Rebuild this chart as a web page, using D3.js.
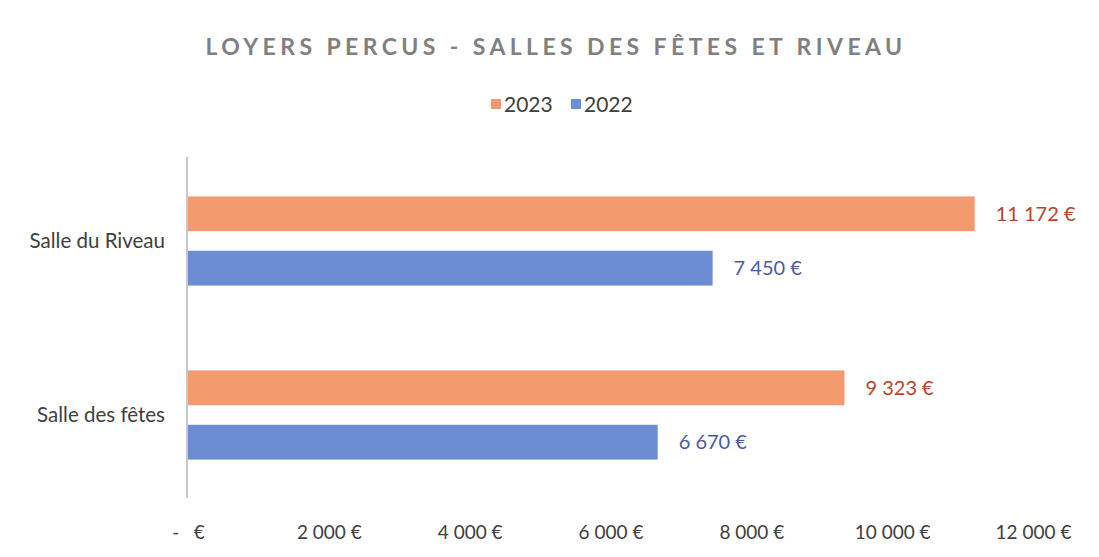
<!DOCTYPE html>
<html>
<head>
<meta charset="utf-8">
<script src="https://cdn.jsdelivr.net/npm/d3@7"></script>
<style>
  body { margin: 0; background: #fff; }
  text { font-family: Lato, "Open Sans", sans-serif; }
</style>
</head>
<body>
<script>
let w = 1099;
let h = 557;

const categories = ["Salle du Riveau", "Salle des fêtes"];
const years = ["2023", "2022"];
const values2023 = [11172, 9323];
const values2022 = [7450, 6670];
const xTicks = [0, 2000, 4000, 6000, 8000, 10000, 12000];

const barColors = { "2023": "#f39a6f", "2022": "#6a8dd4" };
const labelColors = { "2023": "#b4452c", "2022": "#4d5aa0" };

const rows = categories.map(function (c, i) {
  return { cat: c, "2023": values2023[i], "2022": values2022[i] };
});

const margin = { top: 154, right: 66, bottom: 55, left: 188 };

let svg = d3.select("body").append("svg").attr("width", w).attr("height", h);

//number format with space thousands, euro sign
const fr = d3.formatLocale({ decimal: ",", thousands: "\u202f", grouping: [3], currency: ["", " €"] });
function euro(v) {
  if (v === 0) return "-   €";
  return fr.format(",")(v).replace(/\u202f/g, " ") + " €";
}

let x = d3.scaleLinear().domain([0, 12000]).range([margin.left, w - margin.right]);
let y = d3.scaleBand().domain(categories).range([margin.top, h - margin.bottom]);
let inner = d3.scaleBand().domain(years).range([0, y.bandwidth()]).paddingInner(0.36).paddingOuter(0.78);

//title
svg.append("text")
  .attr("x", 556)
  .attr("y", 55)
  .attr("text-anchor", "middle")
  .attr("font-size", 23)
  .attr("font-weight", "bold")
  .attr("letter-spacing", 4.4)
  .attr("fill", "#808080")
  .text("LOYERS PERCUS - SALLES DES FÊTES ET RIVEAU");

//legend
let legend = svg.append("g").attr("transform", "translate(491,104)");
let lx = 0;
years.forEach(function (yr) {
  legend.append("rect").attr("x", lx).attr("y", -5).attr("width", 10).attr("height", 10).attr("fill", barColors[yr]);
  legend.append("text").attr("x", lx + 13).attr("y", 8).attr("font-size", 21).attr("fill", "#404040").text(yr);
  lx += 80;
});

//bars
let groups = svg.selectAll("g.cat")
  .data(rows)
  .enter()
  .append("g")
  .attr("class", "cat")
  .attr("transform", function (d) { return "translate(0," + y(d.cat) + ")"; });

years.forEach(function (yr) {
  groups.append("rect")
    .attr("x", x(0))
    .attr("y", inner(yr))
    .attr("width", function (d) { return x(d[yr]) - x(0); })
    .attr("height", inner.bandwidth())
    .attr("fill", barColors[yr]);

  groups.append("text")
    .attr("x", function (d) { return x(d[yr]) + 21; })
    .attr("y", inner(yr) + inner.bandwidth() / 2)
    .attr("dy", "0.35em")
    .attr("font-size", 20)
    .attr("fill", labelColors[yr])
    .text(function (d) { return euro(d[yr]); });
});

//category labels
svg.selectAll("text.cat")
  .data(categories)
  .enter()
  .append("text")
  .attr("class", "cat")
  .attr("x", 165)
  .attr("y", function (d) { return y(d) + y.bandwidth() / 2; })
  .attr("dy", "0.35em")
  .attr("text-anchor", "end")
  .attr("font-size", 20.5)
  .attr("fill", "#404040")
  .text(function (d) { return d; });

//axis line
svg.append("line")
  .attr("x1", x(0) - 1).attr("x2", x(0) - 1)
  .attr("y1", margin.top + 3).attr("y2", h - margin.bottom - 4)
  .attr("stroke", "#c8c8c8")
  .attr("stroke-width", 2);

//x axis labels
let xAxis = d3.axisBottom(x).tickValues(xTicks).tickSize(0).tickFormat(euro);
let ax = svg.append("g").attr("transform", "translate(0," + (h - margin.bottom) + ")").call(xAxis);
ax.select(".domain").remove();
ax.selectAll("text")
  .attr("dy", 0)
  .attr("y", 37)
  .attr("font-size", 19)
  .attr("fill", "#404040")
  .style("font-family", "Lato, sans-serif")
  .style("white-space", "pre");
</script>
</body>
</html>
